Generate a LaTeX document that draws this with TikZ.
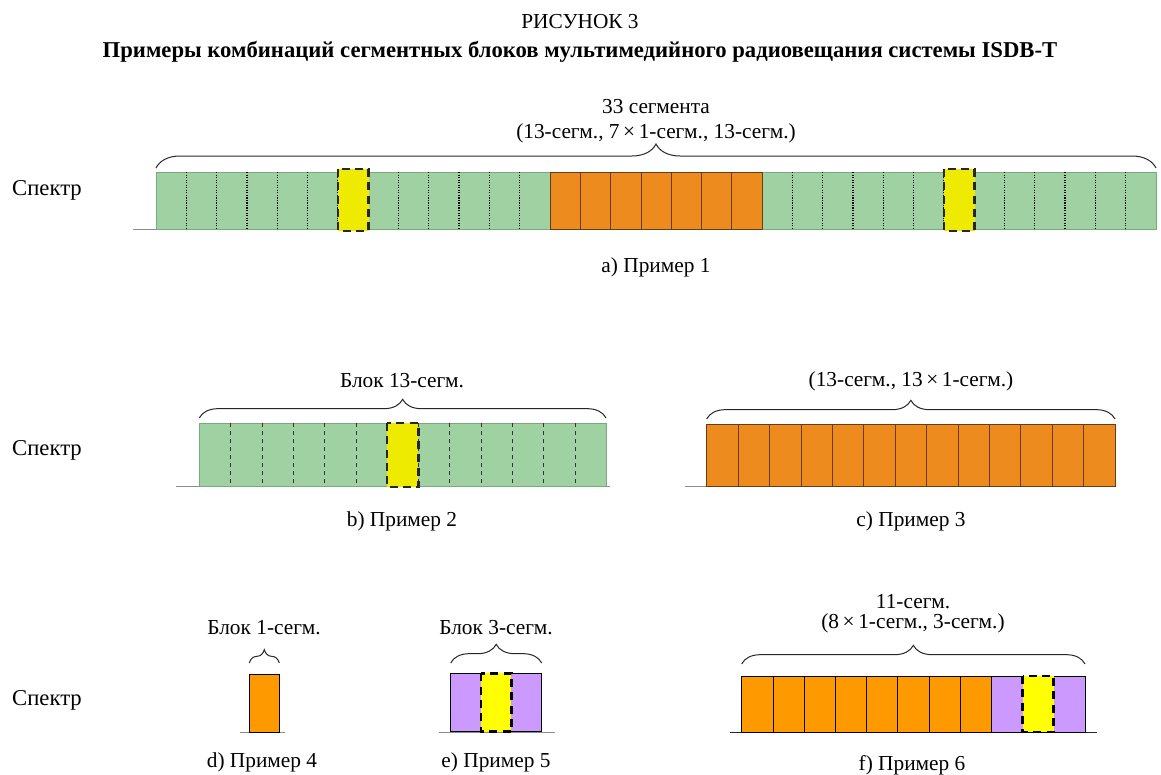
\documentclass[tikz,border=0pt]{standalone}
\usepackage{fontspec}
\setmainfont{Liberation Serif}
\usetikzlibrary{decorations.pathreplacing,positioning}

\definecolor{segGreen}{RGB}{160,209,163}
\definecolor{segGreenB}{RGB}{120,170,125}
\definecolor{segOrange}{RGB}{238,139,30}
\definecolor{segOrangeB}{RGB}{255,153,0}
\definecolor{segBrown}{RGB}{105,60,25}
\definecolor{segYellow}{RGB}{238,234,0}
\definecolor{segYellowB}{RGB}{255,255,0}
\definecolor{segPurple}{RGB}{204,153,255}

\begin{document}
\begin{tikzpicture}[x=0.75pt,y=-0.75pt,semithick,
                    font=\fontsize{16}{19}\selectfont]
  \tikzstyle{every node}=[inner sep=1pt]
  \tikzstyle{spec}=[font=\fontsize{17}{20}\selectfont]
  \tikzstyle{ground}=[draw=black!45,thin]
  \tikzstyle{greenbar}=[fill=segGreen,draw=segGreenB,thin]
  \tikzstyle{darkseg}=[fill=segOrange,draw=segBrown,thin]
  \tikzstyle{lightseg}=[fill=segOrangeB,draw=black,thin]
  \tikzstyle{violet}=[fill=segPurple,draw=black,thin]
  \tikzstyle{divide}=[black,densely dotted,line width=0.9pt]
  \tikzstyle{divide2}=[black!80,dashed,thin]
  \tikzstyle{onesegA}=[fill=segYellow,draw=black!85,line width=2.2pt,dash pattern=on 6pt off 4pt]
  \tikzstyle{onesegB}=[fill=segYellowB,draw=black,line width=2.2pt,dash pattern=on 6pt off 4pt]
  \tikzstyle{brc}=[decorate,decoration={brace,amplitude=14pt},black!85,line width=0.75pt]

  \useasboundingbox (0,0) rectangle (1161,775);

  \node (Fig) at (580,22) {РИСУНОК 3};
  \node[font=\fontsize{17}{20}\selectfont\bfseries] (Ttl) at (580,52) {Примеры комбинаций сегментных блоков мультимедийного радиовещания системы ISDB-T};

  % a) example 1
  \node[spec] (S1) at (47,190) {Спектр};
  \draw[ground] (133,229) -- (1156,229);
  \draw[greenbar] (156,172) rectangle (1156,229);
  \foreach \i in {1,...,12,21,22,...,32}
    \draw[divide] ({156+\i*30.3},172) -- ++(0,57);
  \foreach \i in {13,...,19}
    \draw[darkseg] ({156+\i*30.3},172) rectangle ++(30.3,57);
  \draw[onesegA] (338,169) rectangle (368.5,231);
  \draw[onesegA] (944,169) rectangle (974.5,231);
  \draw[brc,decoration={amplitude=18pt}] (156,168) -- (1156,168);
  \node (N1) at (656,107) {33 сегмента};
  \node (C1) at (656,133) {(13-сегм., 7\,×\,1-сегм., 13-сегм.)};
  \node (P1) at (656,267) {a) Пример 1};

  % b) example 2
  \node[spec] (S2) at (47,450) {Спектр};
  \draw[ground] (176,486) -- (610,486);
  \draw[greenbar] (199.3,423.3) rectangle (606,486);
  \foreach \i in {1,...,12}
    \draw[divide2] ({199.3+\i*31.3},423.3) -- ++(0,62.7);
  \foreach \i in {3,4,8,11}
    \draw[divide2,semithick] ({199.3+\i*31.3},423.3) -- ++(0,62.7);
  \draw[onesegA] (387,423) rectangle (418.4,487);
  \draw[brc] (199.3,418) -- (606,418);
  \node (C2) at (402,381) {Блок 13-сегм.};
  \node (P2) at (402,521) {b) Пример 2};

  % c) example 3
  \draw[ground] (685,486.7) -- (1115,486.7);
  \foreach \i in {0,...,12}
    \draw[darkseg] ({706.7+\i*31.4},424) rectangle ++(31.4,62.7);
  \draw[brc] (706.7,419) -- (1115,419);
  \node (C3) at (911,381) {(13-сегм., 13\,×\,1-сегм.)};
  \node (P3) at (911,521) {c) Пример 3};

  % d) example 4
  \node[spec] (S3) at (47,700) {Спектр};
  \draw[ground] (240,732.7) -- (285,732.7);
  \draw[lightseg] (249.3,674) rectangle (279.3,732.7);
  \draw[brc,decoration={amplitude=10pt}] (249.3,663) -- (279.3,663);
  \node (C4) at (264,628) {Блок 1-сегм.};
  \node (P4) at (262,762) {d) Пример 4};

  % e) example 5
  \draw[ground] (439,732) -- (555,732);
  \draw[violet] (450.7,673.3) rectangle (541.7,731.7);
  \draw[black,semithick] (450.7,731.7) -- (541.7,731.7);
  \draw[onesegB] (481,673.3) rectangle (511.3,731.7);
  \draw[brc] (450.7,663) -- (541.7,663);
  \node (C5) at (496,628) {Блок 3-сегм.};
  \node (P5) at (496,762) {e) Пример 5};

  % f) example 6
  \draw[black!85,semithick] (730,732) -- (1097,732);
  \foreach \i in {0,...,7}
    \draw[lightseg] ({741.7+\i*31.2},676) rectangle ++(31.2,56);
  \draw[violet] (991.3,676) rectangle (1085,732);
  \draw[onesegB] (1022.5,676) rectangle (1053.7,732);
  \draw[brc] (741.7,664) -- (1085,664);
  \node (C6) at (913,623) {(8\,×\,1-сегм., 3-сегм.)};
  \node (N6) [above=1pt of C6] {11-сегм.};
  \node (P6) at (912,765) {f) Пример 6};
\end{tikzpicture}
\end{document}
